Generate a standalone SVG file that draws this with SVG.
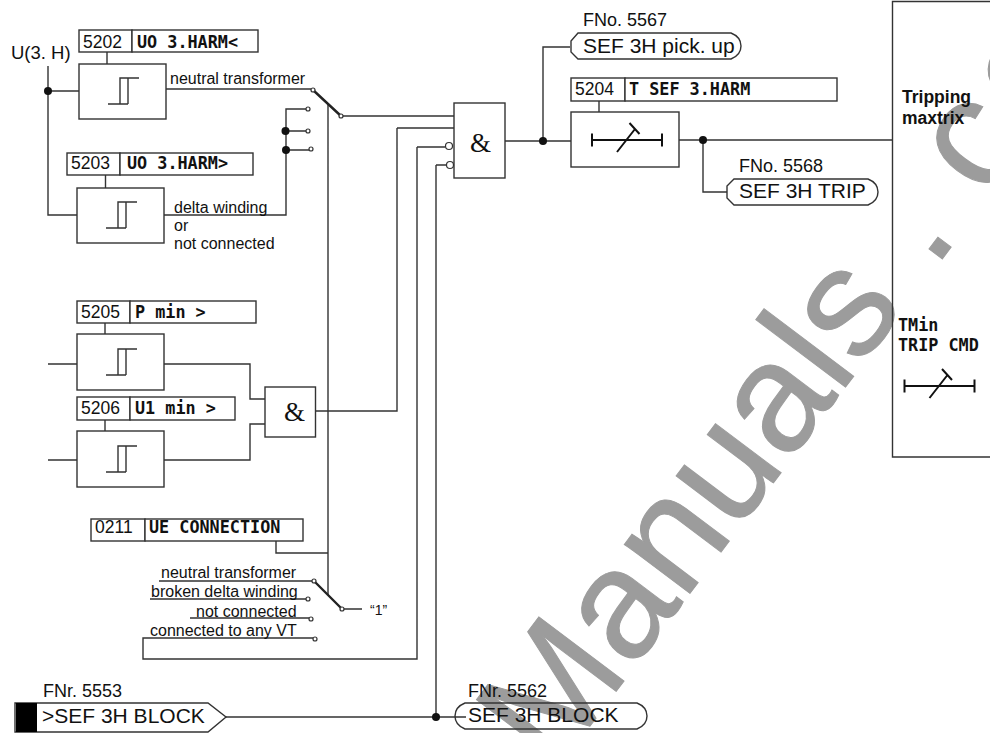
<svg xmlns="http://www.w3.org/2000/svg" width="990" height="733" viewBox="0 0 990 733">
<style>
.l{fill:none;stroke:#333;stroke-width:1.4}
.b{fill:#fff;stroke:#333;stroke-width:1.4}
.t{font-family:"Liberation Sans",Arial,sans-serif;fill:#111}
.m{font-family:"DejaVu Sans Mono","Liberation Mono",monospace;font-weight:700;font-size:16.8px;fill:#111}
.n{font-size:17.5px}.u{font-size:18.5px}.s{font-size:16px}.f{font-size:18px}.x{font-size:21px}
.w{font-family:"Liberation Sans",Arial,sans-serif;font-size:155px;fill:#9c9c9c;stroke:#9c9c9c;stroke-width:1}
.a{font-family:"Liberation Serif",serif;font-size:27px;fill:#111}
.d{fill:#111;stroke:none}
.o{fill:#fff;stroke:#333;stroke-width:1.2}
.th{fill:none;stroke:#222;stroke-width:2.4}
.bar{fill:none;stroke:#111;stroke-width:2}
</style>
<defs>
<g id="hy"><path class="l" d="M-19 15H1M-7 15V-11H12M1 15V-11"/></g>
<g id="tm"><path class="bar" d="M-35 0H35M-35 -6.5V6.5M35 -6.5V6.5M-10 12L8 -11M2.500 -17L12.500 -6"/></g>
</defs>
<text class="w" transform="translate(554 774) rotate(-53)">Manuals<tspan dx="45">.</tspan><tspan dx="44">c</tspan><tspan dx="8">o</tspan></text>

<g id="connectors">
<path class="l" d="M48 66V215H77M48 91H79M166 89H311M164 215H286V109H306M286 131H306M286 150H309M343 116H454M397 128H454M397 128V411H316M417 147H445M417 147V659H143V638H313M436 165H446M436 165V717M226 717H466M107 52V64M105.500 175V188M105 323V334M105 420V431M164 364H250V399H266M164 460H250V424H266M48 364H77M48 460H77M505 141H571M543 141V47H570M679 140H892M703 140V192H727M276 541V553H328M328 103V595M342 609H362M159 581H312M150 599H306M190 618H309M599 101V112"/>
<path class="th" d="M313 90L341 116M314 581L342 609"/>
<circle class="d" cx="48" cy="91" r="4"/><circle class="d" cx="285.500" cy="131" r="4"/><circle class="d" cx="286" cy="150" r="4"/><circle class="d" cx="543" cy="141" r="4"/><circle class="d" cx="703" cy="140" r="4"/><circle class="d" cx="436" cy="717" r="4"/>
<circle class="o" cx="313" cy="90" r="2"/><circle class="o" cx="341" cy="116" r="2"/><circle class="o" cx="308" cy="109" r="2"/><circle class="o" cx="308" cy="131" r="2"/><circle class="o" cx="311" cy="149" r="2"/><circle class="o" cx="314" cy="581" r="2"/><circle class="o" cx="308" cy="599" r="2"/><circle class="o" cx="311" cy="619" r="2"/><circle class="o" cx="315" cy="639" r="2"/><circle class="o" cx="342" cy="609" r="2"/>
</g>

<g id="u3h"><text class="t u" x="11" y="59">U(3. H)</text></g>
<g id="n5202"><rect class="b" x="79" y="30" width="53" height="22"/><rect class="b" x="132" y="30" width="126" height="22"/><text class="t n" x="83" y="48">5202</text><text class="m" x="137" y="48">UO 3.HARM&lt;</text><rect class="b" x="79" y="64" width="87" height="55"/><use href="#hy" x="127" y="89"/></g>
<g id="n5203"><rect class="b" x="67" y="153" width="53" height="22"/><rect class="b" x="120" y="153" width="133" height="22"/><text class="t n" x="71" y="169">5203</text><text class="m" x="127" y="169">UO 3.HARM&gt;</text><rect class="b" x="77" y="188" width="87" height="55"/><use href="#hy" x="125" y="213"/></g>
<g id="n5205"><rect class="b" x="77" y="301" width="53" height="22"/><rect class="b" x="130" y="301" width="126" height="22"/><text class="t n" x="81" y="318">5205</text><text class="m" x="135" y="318">P min &gt;</text><rect class="b" x="77" y="334" width="87" height="56"/><use href="#hy" x="125" y="360"/></g>
<g id="n5206"><rect class="b" x="77" y="397" width="53" height="23"/><rect class="b" x="130" y="397" width="105" height="23"/><text class="t n" x="81" y="414">5206</text><text class="m" x="135" y="414">U1 min &gt;</text><rect class="b" x="77" y="431" width="87" height="56"/><use href="#hy" x="125" y="457"/></g>
<g id="and2"><rect class="b" x="265" y="387" width="50.500" height="50"/><text class="a" x="284" y="421">&amp;</text></g>
<g id="and1"><rect class="b" x="454" y="103" width="51" height="75"/><text class="a" x="470" y="152">&amp;</text><circle class="o" cx="449" cy="146" r="3.500"/><circle class="o" cx="450" cy="165" r="3.500"/></g>
<g id="n0211"><rect class="b" x="91" y="519" width="54" height="22"/><rect class="b" x="145" y="519" width="158" height="22"/><text class="t n" x="95" y="533">0211</text><text class="m" x="149" y="533">UE CONNECTION</text></g>
<g id="n5204"><rect class="b" x="571" y="78" width="54" height="23"/><rect class="b" x="625" y="78" width="212" height="23"/><text class="t n" x="575" y="95">5204</text><text class="m" x="629" y="95">T SEF 3.HARM</text><rect class="b" x="571" y="112" width="108" height="55"/><use href="#tm" x="627" y="140"/></g>
<g id="n5567"><text class="t f" x="583" y="26">FNo. 5567</text><path class="b" d="M578 33H731Q741 37 741 46Q741 55 731 59H578L571 52V41Z"/><text class="t x" x="583" y="53">SEF 3H pick. up</text></g>
<g id="n5568"><text class="t f" x="739" y="172">FNo. 5568</text><path class="b" d="M734 179H868Q878 183 878 192Q878 201 868 205H734L727 198V186Z"/><text class="t x" x="739" y="198">SEF 3H TRIP</text></g>
<g id="n5553"><text class="t f" x="43" y="697">FNr. 5553</text><path class="b" d="M15 703H208L226 717L208 732H15Z"/><rect x="16" y="703" width="21" height="29" fill="#000"/><text class="t x" x="42" y="723">&gt;SEF 3H BLOCK</text></g>
<g id="n5562"><text class="t f" x="468" y="697">FNr. 5562</text><path class="l" d="M465 703H637Q647 707 647 716Q647 725 637 729H465Q455 725 455 716Q455 707 465 703Z"/><text class="t x" x="468" y="722">SEF 3H BLOCK</text></g>
<g id="matrix"><path class="l" d="M990 1.500H892.500V457H990"/><text class="t" x="902" y="103" font-size="17.500" font-weight="700">Tripping</text><text class="t" x="902" y="124" font-size="17.500" font-weight="700">maxtrix</text><text class="m" x="898" y="331">TMin</text><text class="m" x="898" y="351">TRIP CMD</text><use href="#tm" x="939.500" y="386"/></g>
<g id="labels">
<text class="t s" x="170" y="84">neutral transformer</text>
<text class="t s" x="174" y="213">delta winding</text><text class="t s" x="174" y="231">or</text><text class="t s" x="174" y="249">not connected</text>
<text class="t s" x="161" y="578">neutral transformer</text><text class="t s" x="151" y="597">broken delta winding</text><text class="t s" x="196" y="617">not connected</text><text class="t s" x="150" y="636">connected to any VT</text>
<text class="t" x="370" y="615" font-size="14">“1”</text>
</g>
</svg>
